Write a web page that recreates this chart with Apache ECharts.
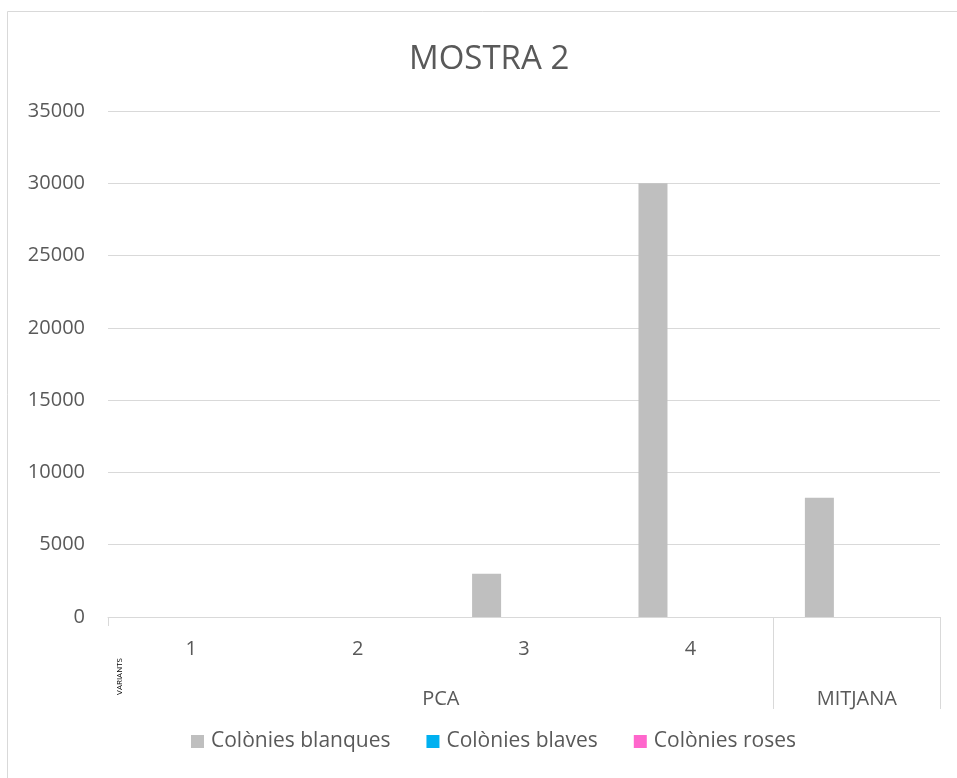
<!DOCTYPE html>
<html>
<head>
<meta charset="utf-8">
<script src="https://cdn.jsdelivr.net/npm/echarts@6/dist/echarts.min.js"></script>
<style>
  html, body { margin: 0; padding: 0; background: #fff; }
  #chart { width: 957px; height: 778px; }
</style>
</head>
<body>
<div id="chart"></div>
<script>
// Categories of the first axis row and the grouping row below it
const categories = ['1', '2', '3', '4', ''];
const groupLabels = ['', '', '', '', 'PCA', '', '', '', '', 'MITJANA', ''];
const yTicks = [0, 5000, 10000, 15000, 20000, 25000, 30000, 35000];

// Colony counts per variant
const blanques = [0, 0, 3000, 30000, 8250];
const blaves = [0, 0, 0, 0, 0];
const roses = [0, 0, 0, 0, 0];

const seriesNames = ['Colònies blanques', 'Colònies blaves', 'Colònies roses'];
const seriesColors = ['#bfbfbf', '#00b0f0', '#ff66cc'];
const seriesData = [blanques, blaves, roses];

const FONT = '"Open Sans", sans-serif';
const TEXT = '#595959';
const LINE = '#d9d9d9';

const chart = echarts.init(document.getElementById('chart'), null, { renderer: 'canvas' });

chart.setOption({
  animation: false,
  backgroundColor: '#ffffff',
  title: {
    text: 'MOSTRA 2',
    left: 404,
    top: 38,
    textStyle: { fontFamily: FONT, fontSize: 33, fontWeight: 'normal', color: TEXT }
  },
  legend: {
    bottom: 21,
    left: 186,
    itemWidth: 13,
    itemHeight: 13,
    itemGap: 36,
    icon: 'rect',
    textStyle: { fontFamily: FONT, fontSize: 21, color: TEXT, padding: [0, 0, 0, 2] },
    data: seriesNames
  },
  grid: { left: 108, right: 17, top: 111, bottom: 161 },
  xAxis: [
    {
      type: 'category',
      data: categories,
      axisLine: { lineStyle: { color: LINE, width: 1 } },
      axisTick: {
        show: true,
        length: 9,
        interval: (idx) => idx === 0,
        lineStyle: { color: LINE }
      },
      axisLabel: { margin: 22, fontFamily: FONT, fontSize: 20, color: TEXT, interval: 0 }
    },
    {
      type: 'category',
      position: 'bottom',
      boundaryGap: false,
      data: groupLabels,
      axisLine: { show: false },
      axisTick: {
        show: true,
        length: 92,
        interval: (idx) => idx === 8 || idx === 10,
        lineStyle: { color: LINE }
      },
      axisLabel: { margin: 72, fontFamily: FONT, fontSize: 20, color: TEXT, interval: 0 }
    }
  ],
  yAxis: {
    type: 'value',
    min: yTicks[0],
    max: yTicks[yTicks.length - 1],
    interval: yTicks[1] - yTicks[0],
    axisLine: { show: false },
    axisTick: { show: false },
    splitLine: { lineStyle: { color: LINE, width: 1 } },
    axisLabel: {
      margin: 23,
      fontFamily: FONT,
      fontSize: 20,
      color: TEXT,
      formatter: (v) => String(v)
    }
  },
  series: seriesNames.map((name, i) => ({
    name: name,
    type: 'bar',
    xAxisIndex: 0,
    data: seriesData[i],
    barWidth: 29,
    barGap: '29%',
    itemStyle: { color: seriesColors[i] }
  })),
  graphic: [
    {
      type: 'polyline',
      shape: { points: [[7.5, 778], [7.5, 11.5], [957, 11.5]] },
      style: { stroke: LINE, lineWidth: 1, fill: null },
      silent: true
    },
    {
      type: 'text',
      left: 116,
      top: 658,
      rotation: Math.PI / 2,
      style: { text: 'VARIANTS', fontFamily: FONT, fontSize: 8, fill: '#000000' },
      silent: true
    }
  ]
});
</script>
</body>
</html>
